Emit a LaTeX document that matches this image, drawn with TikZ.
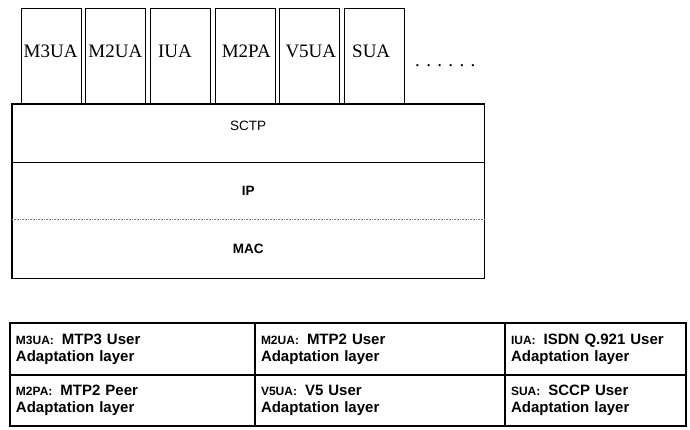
\documentclass[tikz,border=0pt]{standalone}
\usepackage{fontspec}
\setmainfont{Liberation Serif}
\newfontfamily\laysf{Liberation Sans}
\usetikzlibrary{positioning}
\tikzset{
  uabox/.style={draw,line width=1pt,minimum width=60pt,minimum height=96pt,inner sep=0pt,anchor=north west},
  ualabel/.style={font=\fontsize{19}{22}\selectfont,inner sep=0pt,anchor=base west},
  layer/.style={minimum width=472pt,inner sep=0pt,font=\laysf\fontsize{13.5}{16}\selectfont},
  cell/.style={draw,line width=1.1pt,outer sep=0pt,inner xsep=6pt,inner ysep=0pt,align=left,
    font=\laysf\bfseries\fontsize{15}{17}\selectfont}
}
\newcommand{\uaname}[1]{{\fontsize{12}{17}\selectfont #1}\hspace{8pt}}

\begin{document}
\begin{tikzpicture}[x=1pt,y=-1pt]
  \useasboundingbox (0,0) rectangle (690,429);
  % adaptation layers
  \foreach \nm/\txt/\ins [count=\i from 0] in {m3ua/M3UA/3,m2ua/M2UA/3,iua/IUA/8,m2pa/M2PA/7,v5ua/V5UA/6,sua/SUA/8}{
    \node[uabox] (\nm) at ({20.5+64.7*\i},8) {};
    \node[ualabel] (\nm-l) at ([shift={(\ins pt,-1pt)}]\nm.west) {\txt};
  }
  \node[ualabel] (more) at (415,66) {. . . . . .};
  % SCTP / IP / MAC
  \node[layer,anchor=north west,minimum height=58pt,text depth=14pt] (sctp) at (12,104) {SCTP};
  \node[layer,minimum height=56pt,below=0pt of sctp,font=\laysf\bfseries\fontsize{13.5}{16}\selectfont] (ip) {IP};
  \node[layer,minimum height=59pt,below=0pt of ip,font=\laysf\bfseries\fontsize{13.5}{16}\selectfont] (mac) {MAC};
  \draw[line width=1.2pt] (sctp.north west) rectangle (mac.south east);
  \draw[line width=1pt] (sctp.south west) -- (sctp.south east);
  \draw[gray,line width=0.6pt,densely dotted] (ip.south west) -- (ip.south east);
  % legend
  \node[cell,anchor=north west,text width=233pt,minimum height=52pt] (m3uadef) at (10,323)
    {\uaname{M3UA:}MTP3 User\\Adaptation layer};
  \node[cell,text width=238pt,minimum height=52pt,right=0pt of m3uadef] (m2uadef)
    {\uaname{M2UA:}MTP2 User\\Adaptation layer};
  \node[cell,text width=169pt,minimum height=52pt,right=0pt of m2uadef] (iuadef)
    {\uaname{IUA:}ISDN Q.921 User\\Adaptation layer};
  \node[cell,text width=233pt,minimum height=51pt,below=0pt of m3uadef] (m2padef)
    {\uaname{M2PA:}MTP2 Peer\\Adaptation layer};
  \node[cell,text width=238pt,minimum height=51pt,below=0pt of m2uadef] (v5uadef)
    {\uaname{V5UA:}V5 User\\Adaptation layer};
  \node[cell,text width=169pt,minimum height=51pt,below=0pt of iuadef] (suadef)
    {\uaname{SUA:}SCCP User\\Adaptation layer};
\end{tikzpicture}
\end{document}
